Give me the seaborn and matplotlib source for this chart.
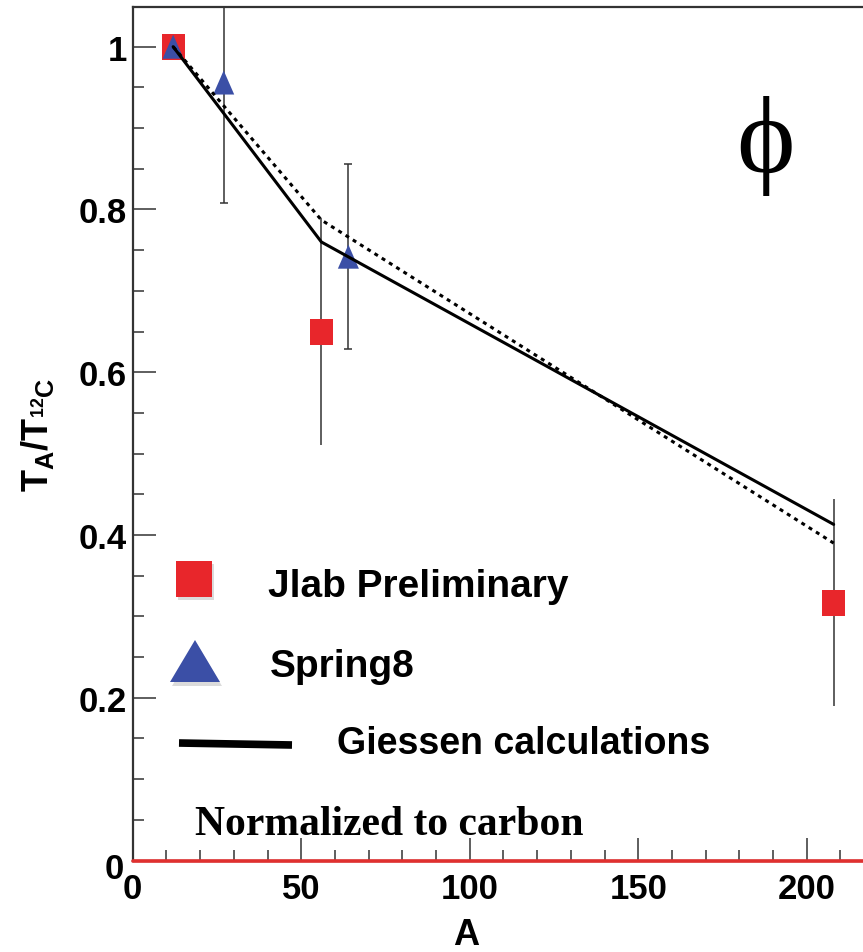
import numpy as np
import pandas as pd
import matplotlib
matplotlib.use("Agg")
import matplotlib.pyplot as plt
from matplotlib.transforms import ScaledTranslation
import seaborn as sns

# ---- data: transparency ratio T_A / T_12C versus mass number A ----
jlab_A = [12, 56, 208]
jlab_T = [1.0, 0.650, 0.317]
jlab_err = [0.0, 0.139, 0.127]

spring8_A = [12, 27, 64]
spring8_T = [1.0, 0.956, 0.742]
spring8_err = [0.0, 0.148, 0.114]

giessen_A = [12, 56, 208]
giessen_solid = [1.0, 0.760, 0.413]
giessen_dotted = [1.0, 0.787, 0.390]

x_major = [0, 50, 100, 150, 200]
y_major = [0, 0.2, 0.4, 0.6, 0.8, 1.0]
y_labels = ["0", "0.2", "0.4", "0.6", "0.8", "1"]

RED = "#e8262b"
BLUE = "#3b4fa6"
GREY = "#333333"

sns.set_theme(style="white")
plt.rcParams["font.family"] = ["Liberation Sans", "DejaVu Sans"]
plt.rcParams["text.color"] = "black"
plt.rcParams["axes.labelcolor"] = "black"
plt.rcParams["mathtext.fontset"] = "custom"
plt.rcParams["mathtext.rm"] = "Liberation Sans:bold"
plt.rcParams["mathtext.it"] = "Liberation Sans:bold"
plt.rcParams["mathtext.bf"] = "Liberation Sans:bold"

W, H = 863, 953
fig = plt.figure(figsize=(W / 100, H / 100), dpi=100)
fig.patch.set_facecolor("white")

x0, y0, ytop = 132.7, 861.5, 8.3
ax = fig.add_axes([x0 / W, 1 - y0 / H, 1 - x0 / W, (y0 - ytop) / H])
ax.set_facecolor("white")
ax.set_xlim(0, (W - x0) / 3.37)
ax.set_ylim(0, (y0 - ytop) / 813.8)


def px(x, y):
    """figure-fraction coordinates from pixel position"""
    return x / W, 1 - y / H


# custom marker shapes (slightly tall squares / triangles)
sq_marker = [(-0.885, -1), (0.885, -1), (0.885, 1), (-0.885, 1)]
tri_marker = [(-0.875, -1), (0.875, -1), (0, 1)]

# error bars
ax.errorbar(jlab_A, jlab_T, yerr=jlab_err, fmt="none", ecolor=GREY,
            elinewidth=1.1, capsize=0, zorder=1)
ax.errorbar(spring8_A, spring8_T, yerr=spring8_err, fmt="none", ecolor=GREY,
            elinewidth=1.1, capsize=3, capthick=1.1, zorder=1)

jlab = pd.DataFrame({"A": jlab_A, "T": jlab_T})
spring = pd.DataFrame({"A": spring8_A, "T": spring8_T})
sns.scatterplot(data=jlab, x="A", y="T", marker=sq_marker, s=350,
                color=RED, edgecolor="none", linewidth=0, ax=ax, zorder=2)
sns.scatterplot(data=spring, x="A", y="T", marker=tri_marker, s=300,
                color=BLUE, edgecolor="none", linewidth=0, ax=ax, zorder=3)

giessen = pd.DataFrame({"A": giessen_A, "solid": giessen_solid,
                        "dotted": giessen_dotted})
sns.lineplot(data=giessen, x="A", y="solid", color="black", lw=2.2,
             ax=ax, zorder=4)
sns.lineplot(data=giessen, x="A", y="dotted", color="black", lw=2.2,
             ax=ax, zorder=4, linestyle=(0, (1.3, 1.5)))

# red baseline at zero
ax.axhline(0, color="#e0302f", lw=2.6, zorder=5, clip_on=False)

# axes frame and ticks
for side in ["left", "top", "bottom"]:
    ax.spines[side].set_color(GREY)
    ax.spines[side].set_linewidth(1.6)
ax.spines["right"].set_visible(False)

ax.set_xticks(x_major)
ax.set_xticks(np.arange(0, 211, 10), minor=True)
ax.set_yticks(y_major)
ax.set_yticklabels(y_labels)
ax.set_yticks(np.arange(0, 1.001, 0.05), minor=True)
ax.tick_params(axis="both", which="both", direction="in", bottom=True,
               left=True, top=False, right=False)
ax.tick_params(axis="both", which="major", length=16.5, width=1.1,
               color=GREY, labelsize=25, labelcolor="black")
ax.tick_params(axis="both", which="minor", length=8, width=1.1, color=GREY)
ax.tick_params(axis="x", which="major", pad=8)
ax.tick_params(axis="y", which="major", pad=4)
for lab in ax.get_xticklabels() + ax.get_yticklabels():
    lab.set_fontweight("bold")
# the zero on the y axis sits a little low and to the left
ylab0 = ax.get_yticklabels()[0]
ylab0.set_transform(ylab0.get_transform() +
                    ScaledTranslation(-3 / 100, -5 / 100, fig.dpi_scale_trans))

ax.set_xlabel("A", fontsize=26, fontweight="bold", va="center")
ax.xaxis.set_label_coords((466 - x0) / (W - x0), -(936 - y0) / (y0 - ytop))
ax.set_ylabel(r"$\mathrm{T_{A}/T_{^{12}C}}$", fontsize=26, va="center")
ax.yaxis.set_label_coords(-(x0 - 37) / (W - x0), 0.5)

# particle symbol
fig.text(*px(765, 146), "\u03d5", fontsize=80, family="Liberation Serif",
         ha="center", va="center")

# note
fig.text(*px(195, 835), "Normalized to carbon", fontsize=30,
         family="Liberation Serif", fontweight="bold", ha="left",
         va="baseline")

# hand-placed key
shadow = dict(color="#999999", alpha=0.35, transform=fig.transFigure,
              clip_on=False, edgecolor="none")
ax.scatter(*px(196, 583), marker="s", s=690, zorder=6, **shadow)
ax.scatter(*px(194, 580), marker="s", s=676, color=RED, edgecolor="none",
           transform=fig.transFigure, clip_on=False, zorder=7)
leg_tri = [(-1, -0.84), (1, -0.84), (0, 0.84)]
ax.scatter(*px(197, 666), marker=leg_tri, s=1296, zorder=6, **shadow)
ax.scatter(*px(195, 662), marker=leg_tri, s=1296, color=BLUE,
           edgecolor="none", transform=fig.transFigure, clip_on=False,
           zorder=7)
ax.plot([179 / W, 292 / W], [1 - 744 / H, 1 - 746 / H], color="black",
        lw=5.5, transform=fig.transFigure, clip_on=False, zorder=7,
        solid_capstyle="butt")

fig.text(*px(268, 597), "Jlab Preliminary", fontsize=28, fontweight="bold",
         ha="left", va="baseline")
fig.text(*px(270, 677), "Spring8", fontsize=28, fontweight="bold",
         ha="left", va="baseline")
fig.text(*px(337, 754), "Giessen calculations", fontsize=27,
         fontweight="bold", ha="left", va="baseline")

fig.savefig("out.png", dpi=100, facecolor="white")
